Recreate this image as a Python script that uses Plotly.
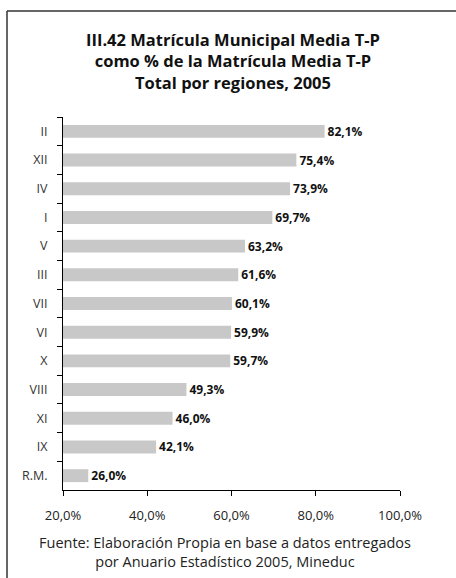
import plotly.graph_objects as go

regions = ["II", "XII", "IV", "I", "V", "III", "VII", "VI", "X", "VIII", "XI", "IX", "R.M."]
values = [82.1, 75.4, 73.9, 69.7, 63.2, 61.6, 60.1, 59.9, 59.7, 49.3, 46.0, 42.1, 26.0]
x_ticks = [20, 40, 60, 80, 100]
x_tick_labels = ["20,0%", "40,0%", "60,0%", "80,0%", "100,0%"]
title_lines = ["III.42 Matrícula Municipal Media T-P",
               "como % de la Matrícula Media T-P",
               "Total por regiones, 2005"]
source_lines = ["Fuente: Elaboración Propia en base a datos entregados",
                "por Anuario Estadístico 2005, Mineduc"]

labels = [f"{v:.1f}".replace(".", ",") + "%" for v in values]
base = 20
FONT = "Open Sans"

W, H = 456, 578
L, R, T, B = 63, 56, 117, 88
pw, ph = W - L - R, H - T - B
def px(x): return (x - L) / pw
def py(y): return (H - B - y) / ph

fig = go.Figure()
fig.add_trace(go.Bar(
    y=regions,
    x=[v - base for v in values],
    base=base,
    orientation="h",
    marker=dict(color="#c8c8c8", line=dict(width=0)),
    text=labels,
    textposition="outside",
    constraintext="none",
    textfont=dict(family=FONT, size=12, color="#111111", weight="bold"),
    cliponaxis=False,
    hoverinfo="skip",
))

annotations = [
    dict(text="<b>" + "<br>".join(title_lines) + "</b>", x=px(233), y=py(61),
         xref="paper", yref="paper", showarrow=False,
         xanchor="center", yanchor="middle",
         font=dict(family=FONT, size=16.5, color="#111111")),
    dict(text="<br>".join(source_lines), x=px(225), y=py(552),
         xref="paper", yref="paper", showarrow=False,
         xanchor="center", yanchor="middle",
         font=dict(family=FONT, size=14.5, color="#222222")),
]

fig.update_layout(
    width=W, height=H,
    margin=dict(l=L, r=R, t=T, b=B, autoexpand=False),
    paper_bgcolor="white", plot_bgcolor="white",
    showlegend=False,
    bargap=0.55,
    font=dict(family=FONT, color="#222222"),
    xaxis=dict(
        range=[20, 100], tickvals=x_ticks, ticktext=x_tick_labels,
        showgrid=False, zeroline=False, showline=True, linecolor="#000000", linewidth=1,
        ticks="outside", ticklen=5, tickcolor="#000000",
        tickfont=dict(family=FONT, size=13, color="#222222"),
        ticklabelstandoff=8, automargin=False,
    ),
    yaxis=dict(
        categoryorder="array", categoryarray=regions, autorange="reversed",
        showgrid=False, zeroline=False, showline=True, linecolor="#000000", linewidth=1,
        ticks="outside", ticklen=5, tickcolor="#000000", tickson="boundaries",
        tickfont=dict(family=FONT, size=12.5, color="#333333"),
        ticklabelstandoff=12, automargin=False,
    ),
    annotations=annotations,
    shapes=[
        dict(type="line", xref="paper", yref="paper", x0=px(7), x1=px(460), y0=py(11), y1=py(11),
             line=dict(color="#333333", width=1.5)),
        dict(type="line", xref="paper", yref="paper", x0=px(7), x1=px(7), y0=py(11), y1=py(590),
             line=dict(color="#333333", width=1.5)),
    ],
)

fig.write_html("out.html", config={"displayModeBar": False},
               post_script="document.body.style.margin='0';document.body.style.overflow='hidden';")
